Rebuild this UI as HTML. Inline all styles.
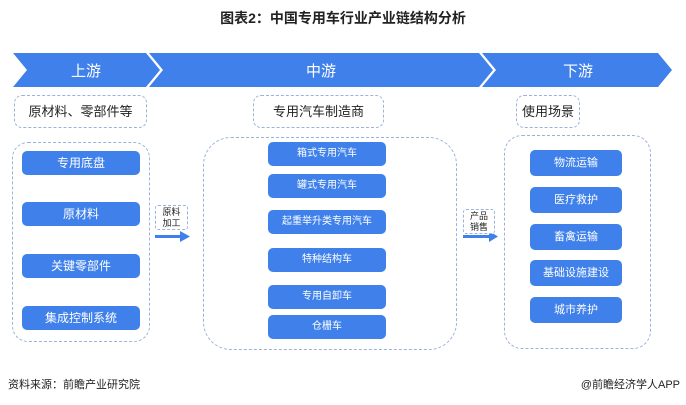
<!DOCTYPE html>
<html><head><meta charset="utf-8"><style>
body{margin:0;width:686px;height:405px;background:#fff;position:relative;overflow:hidden;font-family:"Liberation Sans","Noto Sans CJK SC",sans-serif}
.a{position:absolute;box-sizing:border-box}
.btn{position:absolute;background:#3f80ea;color:#fff;border-radius:5px;text-align:center;font-size:11px;box-sizing:border-box}
.dash{position:absolute;border:1.2px dashed #9bb2dc;box-sizing:border-box}
.lbl{position:absolute;border:1.2px dashed #9bb2dc;border-radius:8px;box-sizing:border-box;text-align:center;font-size:13px;color:#222}
.sm{position:absolute;border:1px dashed #9bb2dc;border-radius:3px;font-size:9px;line-height:11px;text-align:center;color:#222;box-sizing:border-box;background:#fff}
</style></head><body>
<div class="a" style="left:0;top:8px;width:686px;text-align:center;font-size:14px;font-weight:bold;color:#222">图表2：中国专用车行业产业链结构分析</div>
<svg class="a" style="left:0;top:0" width="686" height="405">
<polygon points="13,53 146,53 160,70 146,87 13,87 27,70" fill="#3f80ea"/>
<polygon points="149,53 479,53 493,70 479,87 149,87 163,70" fill="#3f80ea"/>
<polygon points="482,53 658,53 672,70 658,87 482,87 496,70" fill="#3f80ea"/>
<text x="86" y="76" fill="#fff" font-size="15" text-anchor="middle" font-family="Liberation Sans,Noto Sans CJK SC,sans-serif">上游</text>
<text x="321" y="76" fill="#fff" font-size="15" text-anchor="middle" font-family="Liberation Sans,Noto Sans CJK SC,sans-serif">中游</text>
<text x="578" y="76" fill="#fff" font-size="15" text-anchor="middle" font-family="Liberation Sans,Noto Sans CJK SC,sans-serif">下游</text>
<rect x="155" y="235" width="26" height="3" fill="#3f80ea"/><polygon points="180,231 190,236.5 180,242" fill="#3f80ea"/>
<rect x="463" y="235" width="27" height="3" fill="#3f80ea"/><polygon points="489,231 498,236.5 489,242" fill="#3f80ea"/>
</svg>
<div class="lbl" style="left:14px;top:95px;width:133px;height:33px;line-height:31px">原材料、零部件等</div>
<div class="lbl" style="left:253px;top:95px;width:131px;height:33px;line-height:31px">专用汽车制造商</div>
<div class="lbl" style="left:516px;top:95px;width:64px;height:33px;line-height:31px">使用场景</div>
<div class="dash" style="left:12px;top:142px;width:138px;height:200px;border-radius:16px"></div>
<div class="dash" style="left:203px;top:137px;width:254px;height:213px;border-radius:28px"></div>
<div class="dash" style="left:504px;top:135px;width:147px;height:214px;border-radius:18px"></div>
<div class="btn" style="left:22px;top:151px;width:118px;height:24px;line-height:24px;font-size:12px">专用底盘</div>
<div class="btn" style="left:22px;top:202px;width:118px;height:24px;line-height:24px;font-size:12px">原材料</div>
<div class="btn" style="left:22px;top:254px;width:118px;height:24px;line-height:24px;font-size:12px">关键零部件</div>
<div class="btn" style="left:22px;top:306px;width:118px;height:24px;line-height:24px;font-size:12px">集成控制系统</div>
<div class="btn" style="left:268px;top:142px;width:118px;height:24px;line-height:24px;font-size:10px">箱式专用汽车</div>
<div class="btn" style="left:268px;top:174px;width:118px;height:24px;line-height:24px;font-size:10px">罐式专用汽车</div>
<div class="btn" style="left:268px;top:210px;width:118px;height:24px;line-height:24px;font-size:10px">起重举升类专用汽车</div>
<div class="btn" style="left:268px;top:248px;width:118px;height:24px;line-height:24px;font-size:10px">特种结构车</div>
<div class="btn" style="left:268px;top:285px;width:118px;height:24px;line-height:24px;font-size:10px">专用自卸车</div>
<div class="btn" style="left:268px;top:315px;width:118px;height:24px;line-height:24px;font-size:10px">仓栅车</div>
<div class="btn" style="left:530px;top:150px;width:92px;height:26px;line-height:26px">物流运输</div>
<div class="btn" style="left:530px;top:187px;width:92px;height:26px;line-height:26px">医疗救护</div>
<div class="btn" style="left:530px;top:224px;width:92px;height:26px;line-height:26px">畜禽运输</div>
<div class="btn" style="left:530px;top:260px;width:92px;height:26px;line-height:26px">基础设施建设</div>
<div class="btn" style="left:530px;top:297px;width:92px;height:26px;line-height:26px">城市养护</div>
<div class="sm" style="left:155px;top:205px;width:33px;height:25px;padding-top:1px">原料<br>加工</div>
<div class="sm" style="left:463px;top:209px;width:32px;height:25px;padding-top:1px">产品<br>销售</div>
<div class="a" style="left:8px;top:376px;font-size:11px;color:#222">资料来源：前瞻产业研究院</div>
<div class="a" style="right:6px;top:376px;font-size:11px;color:#222">@前瞻经济学人APP</div>
</body></html>
